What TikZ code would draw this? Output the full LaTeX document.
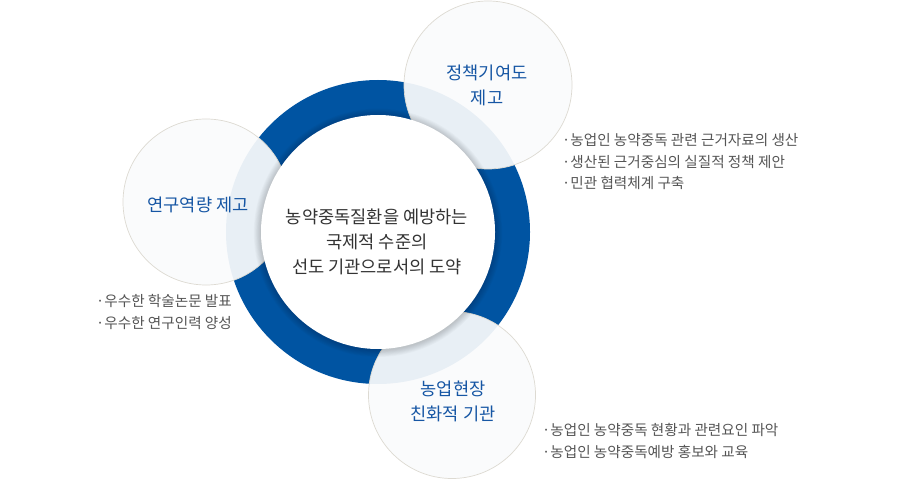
\documentclass[tikz,border=0pt]{standalone}
\usepackage{fontspec}
\setmainfont{Noto Sans CJK KR}
\definecolor{ringblue}{RGB}{0,84,162}
\definecolor{labelblue}{RGB}{22,86,164}
\definecolor{maintext}{RGB}{51,51,51}
\definecolor{bullettext}{RGB}{85,85,85}
\definecolor{satborder}{RGB}{221,218,210}
\definecolor{satfill}{RGB}{250,251,252}
\begin{document}
\begin{tikzpicture}[x=1pt,y=-1pt,
  ringdisc/.style={circle, fill=ringblue, minimum size=304pt, inner sep=0pt},
  satcircle/.style={circle, draw=satborder, line width=0.7pt, fill=satfill, fill opacity=0.93, minimum size=#1, inner sep=0pt},
  coredisc/.style={circle, fill=white, minimum size=234pt, inner sep=0pt},
  corelabel/.style={align=center, text=maintext, font=\fontsize{17.6}{25}\selectfont, inner sep=0pt},
  satlabel/.style={align=center, text=labelblue, font=\fontsize{17.6}{25}\selectfont, inner sep=0pt},
  bulletlist/.style={align=left, anchor=west, text=bullettext, font=\fontsize{14.6}{21.5}\selectfont, inner sep=0pt}]
\path[use as bounding box, fill=white] (0,0) rectangle (899,481);
\coordinate (c) at (378,232);
\node[ringdisc] (ring) at (c) {};
\node[satcircle=168pt] (topsat) at (488,85) {};
\node[satcircle=166pt] (leftsat) at (206,202) {};
\node[satcircle=167pt] (botsat) at (452,395) {};
\foreach \i in {1,...,9}
  \fill[black, opacity=0.02] ([yshift=-0.8pt]c) circle[radius={117pt+\i*0.8pt}];
\node[coredisc] (core) at (c) {};
\node[corelabel] (coretext) at (377,242) {농약중독질환을 예방하는\\국제적 수준의\\선도 기관으로서의 도약};
\node[satlabel] (toptext) at (487,85) {정책기여도\\제고};
\node[satlabel] (lefttext) at (198,205) {연구역량 제고};
\node[satlabel] (bottext) at (453,401) {농업현장\\친화적 기관};
\node[bulletlist] (topbullets) at (562,162) {·농업인 농약중독 관련 근거자료의 생산\\·생산된 근거중심의 실질적 정책 제안\\·민관 협력체계 구축};
\node[bulletlist] (leftbullets) at (96,312) {·우수한 학술논문 발표\\·우수한 연구인력 양성};
\node[bulletlist] (botbullets) at (542,441) {·농업인 농약중독 현황과 관련요인 파악\\·농업인 농약중독예방 홍보와 교육};
\end{tikzpicture}
\end{document}
